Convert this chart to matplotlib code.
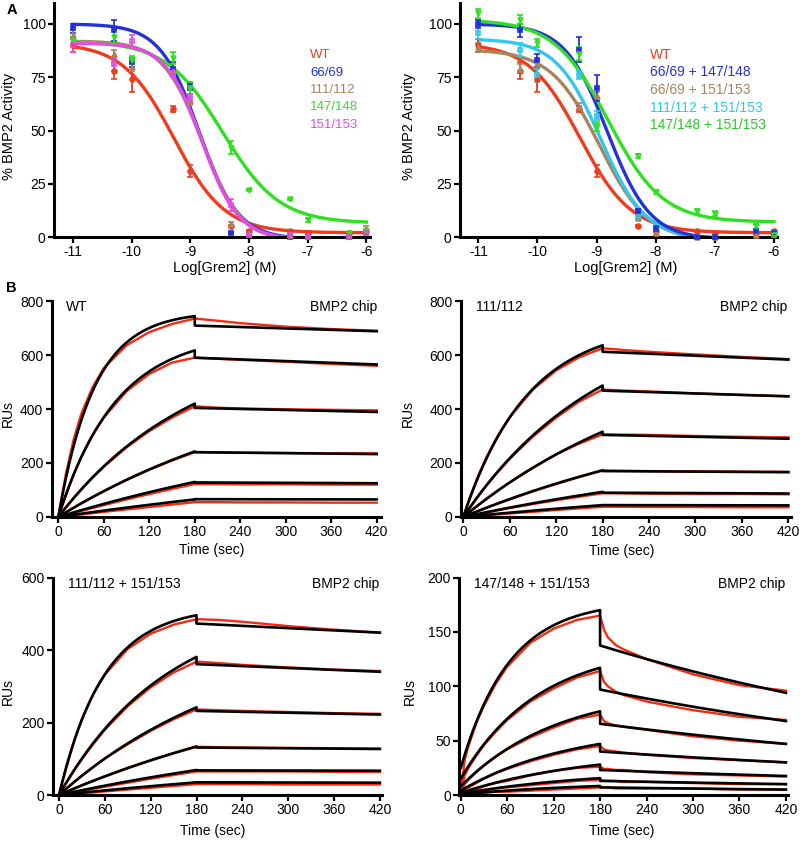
import numpy as np
import matplotlib
matplotlib.use('Agg')
import matplotlib.pyplot as plt

plt.rcParams['font.family'] = ['Liberation Sans', 'DejaVu Sans']
plt.rcParams['axes.unicode_minus'] = False

# ---------------- panel A data ----------------
log_conc = [-11, -10.3, -10, -9.3, -9, -8.3, -8, -7.3, -7, -6.3, -6]

# left plot: single mutants
wt_act = [90, 78, 74, 60, 31, 5, 3, 3, 2, 2, 3]
wt_err = [3, 4, 6, 1.5, 3, 0.5, 0.5, 0.5, 1, 0.5, 0.5]
m6669_act = [98, 97, 82, 79, 71, 2, 1, 0, 0, 0, 2]
m6669_err = [2, 5, 2, 3, 2, 0.5, 0.5, 0.5, 0.5, 0.5, 0.5]
m111_act = [95, 86, 80, 78, 64, 6, 2, 1, 1, 1, 4]
m111_err = [2, 2, 2, 2, 2, 1, 0.5, 0.5, 0.5, 0.5, 1]
m147_act = [92, 94, 83, 84, 70, 42, 22, 18, 8, 2, 3]
m147_err = [2, 3, 2, 3, 3, 3, 0.5, 0.5, 1, 0.5, 1]
m151_act = [90, 81, 92, 77, 65, 15, 1, 1, 0, 0, 2]
m151_err = [3, 3, 3, 2, 2, 3, 1, 0.5, 1, 1, 1]

# right plot: double mutants
d6669_147_act = [100, 97, 83, 88, 70, 12, 4, 0, 0, 3, 2]
d6669_147_err = [2, 3, 3, 6, 6, 1, 1, 0.5, 0.5, 1, 1]
d6669_151_act = [89, 79, 81, 61, 66, 9, 2, 0, 0, 1, 2]
d6669_151_err = [2, 2, 2, 2, 2, 1, 1, 0.5, 0.5, 0.5, 0.5]
d111_151_act = [96, 88, 76, 76, 57, 10, 4, 0, 0, 3, 2]
d111_151_err = [3, 3, 3, 2, 2, 1, 1, 0.5, 0.5, 1, 1]
d147_151_act = [105, 102, 91, 86, 52, 38, 21, 12, 11, 5, 1]
d147_151_err = [2, 2, 2, 3, 2, 1, 1, 1, 1, 1, 1]

# fitted dose-response parameters: top, bottom, logIC50, hill
fit_wt = (91, 2, -9.28, 1.0)
fit_6669 = (100, -1, -8.85, 1.3)
fit_111 = (92, -2, -8.8, 1.3)
fit_147 = (92, 6.5, -8.45, 0.9)
fit_151 = (91, -1, -8.8, 1.4)
fit_d6669_147 = (100, -1, -8.82, 1.2)
fit_d6669_151 = (88, -2, -8.95, 1.05)
fit_d111_151 = (93, -1, -8.93, 1.15)
fit_d147_151 = (102, 7, -8.8, 0.95)

RED = '#f03c1e'
BLUE = '#2430d8'
BROWN = '#a8845e'
GREEN = '#2ee01e'
MAGENTA = '#e44ae4'
CYAN = '#2ec8ee'

# ---------------- panel B data ----------------
t_red = [0, 10, 20, 30, 45, 60, 90, 120, 150, 180, 210, 240, 300, 360, 420]
t_red_br = [0, 5, 10, 20, 30, 45, 60, 90, 120, 150, 180, 185, 190, 200, 210, 240, 300, 360, 420]

# WT on BMP2 chip
wt_red = [
    [0, 160, 285, 380, 480, 552, 636, 685, 715, 735, 727, 718, 705, 696, 690],
    [0, 80, 155, 220, 302, 368, 466, 530, 572, 590, 586, 582, 575, 567, 560],
    [0, 35, 69, 100, 145, 186, 258, 318, 368, 410, 405, 402, 399, 397, 395],
    [0, 17, 34, 50, 73, 95, 137, 175, 209, 240, 239, 238, 237, 236, 236],
    [0, 7, 15, 22, 33, 44, 65, 85, 104, 122, 122, 121, 121, 120, 120],
    [0, 3, 6, 9, 14, 19, 28, 37, 46, 55, 55, 54, 54, 53, 53],
]
wt_peak = [744, 617, 420, 243, 130, 65]
wt_kobs = [0.021, 0.013, 0.0055, 0.003, 0.002, 0.0015]
wt_after = [709, 590, 404, 240, 128, 66]
wt_end = [688, 565, 389, 233, 125, 65]

# 111/112
m111_red = [
    [0, 85, 158, 222, 303, 370, 472, 543, 592, 625, 618, 612, 602, 593, 585],
    [0, 40, 80, 117, 168, 215, 298, 368, 428, 472, 468, 465, 458, 452, 447],
    [0, 22, 45, 67, 98, 128, 182, 232, 272, 306, 305, 304, 300, 297, 295],
    [0, 11, 23, 34, 50, 65, 95, 122, 148, 172, 171, 170, 169, 168, 167],
    [0, 5, 11, 16, 25, 33, 48, 62, 75, 88, 87, 86, 85, 85, 84],
    [0, 2, 4, 6, 10, 13, 19, 26, 32, 38, 38, 37, 37, 36, 36],
]
m111_peak = [636, 487, 316, 173, 93, 44]
m111_kobs = [0.012, 0.0055, 0.0035, 0.0025, 0.002, 0.0015]
m111_after = [612, 468, 304, 170, 90, 44]
m111_end = [583, 447, 290, 166, 87, 43]

# 111/112 + 151/153
d111_red = [
    [0, 78, 150, 210, 280, 332, 403, 445, 470, 485, 483, 478, 466, 456, 448],
    [0, 35, 68, 99, 141, 180, 245, 297, 338, 368, 364, 359, 352, 346, 342],
    [0, 18, 36, 53, 77, 101, 140, 177, 209, 236, 234, 232, 229, 226, 224],
    [0, 9, 18, 27, 39, 51, 74, 95, 115, 133, 132, 131, 130, 129, 128],
    [0, 4, 8, 11, 17, 23, 34, 45, 55, 65, 65, 65, 65, 64, 64],
    [0, 2, 3, 5, 7, 10, 15, 20, 25, 30, 30, 30, 29, 29, 29],
]
d111_peak = [496, 381, 242, 134, 69, 35]
d111_kobs = [0.017, 0.007, 0.004, 0.0025, 0.002, 0.0015]
d111_after = [473, 361, 232, 131, 68, 35]
d111_end = [448, 340, 222, 127, 67, 34]

# 147/148 + 151/153
d147_red = [
    [0, 32, 45, 66, 82, 102, 118, 140, 153, 161, 165, 152, 145, 138, 134, 125, 111, 101, 96],
    [0, 18, 25, 36, 46, 58, 69, 86, 98, 108, 114, 104, 100, 95, 92, 86, 78, 72, 69],
    [0, 10, 14, 21, 27, 35, 42, 53, 62, 70, 74, 68, 66, 64, 63, 60, 54, 50, 47],
    [0, 5, 7, 11, 15, 20, 24, 31, 37, 42, 45, 42, 41, 40, 39, 37, 34, 32, 30],
    [0, 2, 3, 5, 8, 11, 13, 18, 22, 25, 26, 24, 24, 23, 23, 21, 19, 18, 17],
    [0, 1, 2, 3, 4, 6, 7, 9, 11, 13, 14, 13, 13, 13, 12, 12, 11, 10, 10],
    [0, 0, 1, 1, 2, 3, 3, 4, 5, 6, 7, 7, 7, 6, 6, 6, 6, 5, 5],
]
d147_offset = [25, 15, 8, 4, 2, 1, 0.5]
d147_peak = [170, 117, 77, 47, 28, 15.5, 8.3]
d147_kobs = [0.016, 0.01, 0.008, 0.007, 0.006, 0.006, 0.006]
d147_after = [137.5, 97, 65.5, 40, 23, 13, 7]
d147_end = [94, 68, 47, 30, 17.5, 10, 5]


def dose_response(x, top, bottom, logic50, hill):
    return bottom + (top - bottom) / (1 + 10 ** ((x - logic50) * hill))


def style(ax, fs=10):
    for s in ['top', 'right']:
        ax.spines[s].set_visible(False)
    for s in ['left', 'bottom']:
        ax.spines[s].set_linewidth(2.2)
    ax.tick_params(direction='out', length=4, width=1.6, labelsize=fs, pad=2)


fig = plt.figure(figsize=(8, 8.42), dpi=100)

# ---------------- panel A ----------------
xs = np.linspace(-11, -6, 300)


def dose_plot(ax, series, xlim, xlab_pos, ylab_pos):
    for act, err, fit, color, marker, mfc in series:
        ax.plot(xs, dose_response(xs, *fit), color=color, lw=2.4, zorder=2)
        ax.errorbar(log_conc, act, yerr=err, fmt=marker, ms=3.5, color=color,
                    mfc=mfc, mew=1.2, capsize=2.2, elinewidth=1.3, capthick=1.3,
                    clip_on=False, zorder=3)
    ax.set_xlim(*xlim)
    ax.set_ylim(0, 110)
    ax.set_xticks([-11, -10, -9, -8, -7, -6])
    ax.set_yticks([0, 25, 50, 75, 100])
    ax.set_xlabel('Log[Grem2] (M)', fontsize=10.5)
    ax.set_ylabel('% BMP2 Activity', fontsize=10.5)
    ax.xaxis.set_label_coords(*xlab_pos)
    ax.yaxis.set_label_coords(*ylab_pos)
    style(ax)


axA1 = fig.add_axes([0.0675, 0.7185, 0.395, 0.2783])
dose_plot(axA1, [
    (wt_act, wt_err, fit_wt, RED, 'o', RED),
    (m6669_act, m6669_err, fit_6669, BLUE, 's', BLUE),
    (m111_act, m111_err, fit_111, BROWN, '^', BROWN),
    (m147_act, m147_err, fit_147, GREEN, 'v', GREEN),
    (m151_act, m151_err, fit_151, MAGENTA, 's', 'none'),
], (-11.32, -5.94), (0.54, -0.102), (-0.12, 0.474))

axA2 = fig.add_axes([0.575, 0.7185, 0.39625, 0.2783])
dose_plot(axA2, [
    (wt_act, wt_err, fit_wt, RED, 'o', RED),
    (d6669_151_act, d6669_151_err, fit_d6669_151, BROWN, '^', BROWN),
    (d111_151_act, d111_151_err, fit_d111_151, CYAN, 's', 'none'),
    (d6669_147_act, d6669_147_err, fit_d6669_147, BLUE, 's', BLUE),
    (d147_151_act, d147_151_err, fit_d147_151, GREEN, 'v', 'none'),
], (-11.31, -5.95), (0.524, -0.102), (-0.139, 0.474))

legend_left = [('WT', RED), ('66/69', BLUE), ('111/112', BROWN),
               ('147/148', GREEN), ('151/153', MAGENTA)]
legend_right = [('WT', RED), ('66/69 + 147/148', BLUE), ('66/69 + 151/153', BROWN),
                ('111/112 + 151/153', CYAN), ('147/148 + 151/153', '#28c828')]
for i, (txt, c) in enumerate(legend_left):
    fig.text(0.3875, 1 - (55 + 17.5 * i) / 842, txt, color=c, fontsize=9.5, va='center')
for i, (txt, c) in enumerate(legend_right):
    fig.text(0.8125, 1 - (55 + 17.5 * i) / 842, txt, color=c, fontsize=10, va='center')

fig.text(0.008, 1 - 10 / 842, 'A', fontsize=10.5, fontweight='bold', va='center')
fig.text(0.008, 1 - 288 / 842, 'B', fontsize=10.5, fontweight='bold', va='center')

# ---------------- panel B ----------------
t_assoc = np.linspace(0, 180, 300)
t_diss = np.linspace(180, 420, 300)


def spr_plot(ax, t_data, red, peak, kobs, after, end, offset, name, ylim, yticks, xlim,
             xlab_pos, ylab_pos):
    for i in range(len(red)):
        ax.plot(t_data, red[i], color='#f52a12', lw=1.7, zorder=2)
        off = offset[i]
        assoc = off + (peak[i] - off) * (1 - np.exp(-kobs[i] * t_assoc)) / (1 - np.exp(-kobs[i] * 180))
        diss = after[i] * (end[i] / after[i]) ** ((t_diss - 180) / 240)
        ax.plot(np.concatenate([t_assoc, t_diss]), np.concatenate([assoc, diss]),
                color='black', lw=1.9, zorder=3)
    ax.set_xlim(*xlim)
    ax.set_ylim(*ylim)
    ax.set_xticks(range(0, 421, 60))
    ax.set_yticks(yticks)
    ax.set_xlabel('Time (sec)', fontsize=10)
    ax.set_ylabel('RUs', fontsize=10)
    ax.xaxis.set_label_coords(*xlab_pos)
    ax.yaxis.set_label_coords(*ylab_pos)
    ax.text(0.045, 0.97, name, transform=ax.transAxes, fontsize=10, va='center', ha='left')
    ax.text(0.99, 0.97, 'BMP2 chip', transform=ax.transAxes, fontsize=10, va='center', ha='right')
    style(ax)


axB1 = fig.add_axes([0.0644, 0.386, 0.41125, 0.2565])
spr_plot(axB1, t_red, wt_red, wt_peak, wt_kobs, wt_after, wt_end, [0] * 6,
         'WT', (0, 800), [0, 200, 400, 600, 800], (-9, 425), (0.487, -0.12), (-0.111, 0.48))

axB2 = fig.add_axes([0.57625, 0.386, 0.4121, 0.2565])
spr_plot(axB2, t_red, m111_red, m111_peak, m111_kobs, m111_after, m111_end, [0] * 6,
         '111/112', (0, 800), [0, 200, 400, 600, 800], (-3, 423), (0.487, -0.125), (-0.14, 0.48))

axB3 = fig.add_axes([0.0661, 0.0558, 0.4116, 0.2583])
spr_plot(axB3, t_red, d111_red, d111_peak, d111_kobs, d111_after, d111_end, [0] * 6,
         '111/112 + 151/153', (0, 600), [0, 200, 400, 600], (-8, 423), (0.485, -0.135), (-0.114, 0.478))

axB4 = fig.add_axes([0.574, 0.0558, 0.41125, 0.2583])
spr_plot(axB4, t_red_br, d147_red, d147_peak, d147_kobs, d147_after, d147_end, d147_offset,
         '147/148 + 151/153', (0, 200), [0, 50, 100, 150, 200], (-2, 423), (0.495, -0.135), (-0.128, 0.478))

fig.savefig('out.png', dpi=100)
